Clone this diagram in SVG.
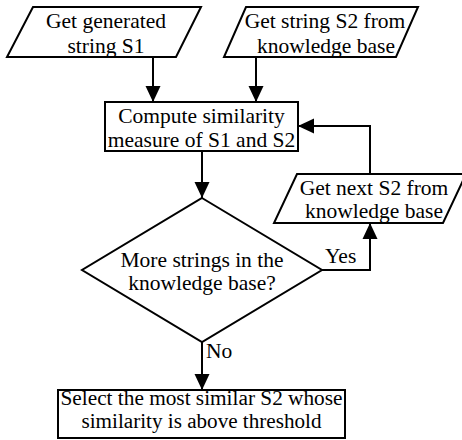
<svg xmlns="http://www.w3.org/2000/svg" width="462" height="440" viewBox="0 0 462 440">
<defs>
<marker id="arr" markerUnits="userSpaceOnUse" markerWidth="16" markerHeight="16" viewBox="0 0 16 16" refX="16" refY="8" orient="auto">
<path d="M0,0.5 L16,8 L0,15.5 Z" fill="#000"/>
</marker>
<style>
.shape{fill:#fff;stroke:#000;stroke-width:2}
.t{font-family:"Liberation Serif","Times New Roman",serif;font-size:21.5px;fill:#000;text-anchor:middle}
.s{font-family:"Liberation Serif","Times New Roman",serif;font-size:20px;fill:#000;text-anchor:middle}
.l{font-family:"Liberation Serif","Times New Roman",serif;font-size:21.5px;fill:#000}
.c{fill:none;stroke:#000;stroke-width:2}
</style>
</defs>
<rect width="462" height="440" fill="#fff"/>
<g id="connectors">
<path class="c" d="M153,57 V102" marker-end="url(#arr)"/>
<path class="c" d="M256,57 V102" marker-end="url(#arr)"/>
<path class="c" d="M202,152 V198" marker-end="url(#arr)"/>
<path class="c" d="M322,270 H370 V223" marker-end="url(#arr)"/>
<path class="c" d="M370,174 V126 H298" marker-end="url(#arr)"/>
<path class="c" d="M202,342 V390" marker-end="url(#arr)"/>
<text class="l" x="325" y="263">Yes</text>
<text class="l" x="206" y="358">No</text>
</g>
<g id="get-s1">
<polygon class="shape" points="33,7 201,7 176,57 7,57"/>
<text class="t" x="106" y="28">Get generated</text>
<text class="t" x="106" y="53">string S1</text>
</g>
<g id="get-s2">
<polygon class="shape" points="246,7 418,7 396,57 224,57"/>
<text class="t" x="325" y="28">Get string S2 from</text>
<text class="t" x="326" y="53">knowledge base</text>
</g>
<g id="compute">
<rect class="shape" x="105" y="102" width="193" height="49"/>
<text class="t" x="201.5" y="123">Compute similarity</text>
<text class="t" x="201.5" y="147">measure of S1 and S2</text>
</g>
<g id="decision">
<polygon class="shape" points="202,198 322,270 202,342 82,270"/>
<text class="t" x="202" y="267">More strings in the</text>
<text class="t" x="202" y="290">knowledge base?</text>
</g>
<g id="get-next">
<polygon class="shape" points="297,174 466,174 443,223 274,223"/>
<text class="t" x="374" y="195">Get next S2 from</text>
<text class="t" x="374" y="218">knowledge base</text>
</g>
<g id="select">
<rect class="shape" x="58" y="390" width="287" height="48"/>
<text class="s" x="201.5" y="405" textLength="282" lengthAdjust="spacingAndGlyphs">Select the most similar S2 whose</text>
<text class="s" x="201.5" y="428" textLength="240" lengthAdjust="spacingAndGlyphs">similarity is above threshold</text>
</g>
</svg>
